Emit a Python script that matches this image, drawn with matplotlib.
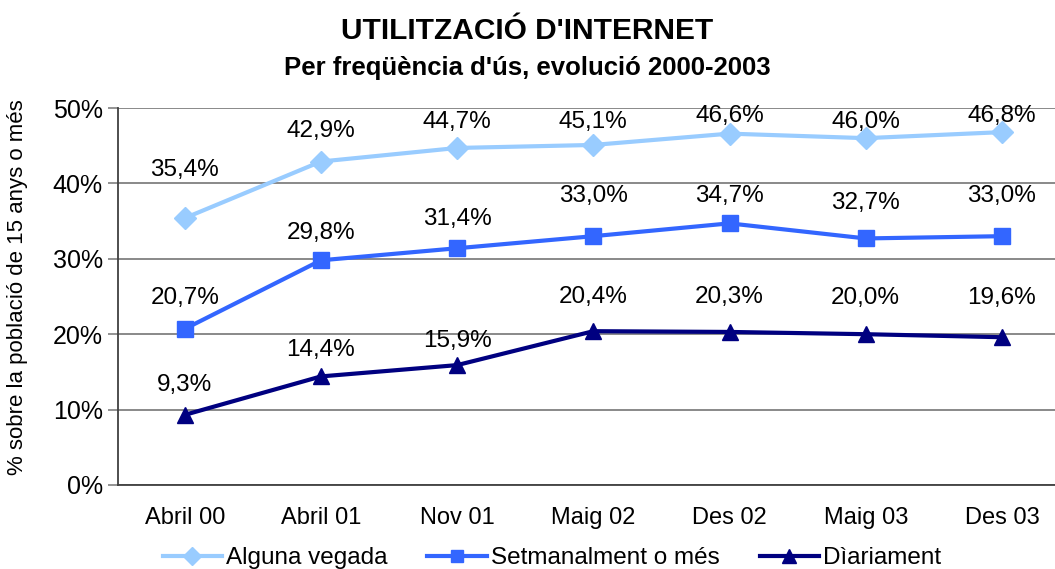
import matplotlib
matplotlib.use("Agg")
import matplotlib.pyplot as plt
from matplotlib.ticker import FuncFormatter

plt.rcParams['font.family'] = ['Liberation Sans', 'DejaVu Sans']

# Data
periods = ["Abril 00", "Abril 01", "Nov 01", "Maig 02", "Des 02", "Maig 03", "Des 03"]
alguna_vegada = [35.4, 42.9, 44.7, 45.1, 46.6, 46.0, 46.8]
setmanalment = [20.7, 29.8, 31.4, 33.0, 34.7, 32.7, 33.0]
diariament = [9.3, 14.4, 15.9, 20.4, 20.3, 20.0, 19.6]
series_names = ["Alguna vegada", "Setmanalment o més", "Dìariament"]

# label offsets above the point (pixels), as placed in the original
off_alguna = [48, 31, 26, 23, 18, 16, 16]
off_setman = [31, 27, 29, 40, 27, 35, 40]
off_diari = [30, 26, 24, 34, 35, 36, 39]

fig = plt.figure(figsize=(10.55, 5.69), dpi=100)
ax = fig.add_axes([118 / 1055, 1 - 485 / 569, 1 - 118 / 1055, (485 - 108) / 569])

x = list(range(len(periods)))
styles = [
    (alguna_vegada, "#99CCFF", "D", 11, off_alguna),
    (setmanalment, "#3366FF", "s", 11, off_setman),
    (diariament, "#000080", "^", 12, off_diari),
]

for (vals, col, mk, ms, offs), name in zip(styles, series_names):
    ax.plot(x, vals, color=col, marker=mk, markersize=ms, linewidth=3,
            label=name, clip_on=False, zorder=3)
    for xi, v, o in zip(x, vals, offs):
        ax.annotate(f"{v:.1f}%".replace(".", ","), (xi, v), xytext=(0, o),
                    textcoords="offset pixels", ha="center", va="center",
                    fontsize=17.5, color="black")

ax.set_xlim(-0.49, 6.39)
ax.set_ylim(0, 50)
ax.set_yticks(range(0, 51, 10))
ax.yaxis.set_major_formatter(FuncFormatter(lambda v, p: f"{int(v)}%"))
ax.grid(axis="y", color="#808080", linewidth=1.3)
ax.set_axisbelow(True)
ax.set_xticks(x)
ax.set_xticklabels(periods)
ax.tick_params(axis="x", length=0, labelsize=17, pad=16)
ax.tick_params(axis="y", length=7, width=1.2, color="#808080", labelsize=18, pad=4)
for s in ["top", "right"]:
    ax.spines[s].set_visible(False)
ax.spines["left"].set_color("#404040")
ax.spines["left"].set_linewidth(1.3)
ax.spines["bottom"].set_color("#404040")
ax.spines["bottom"].set_linewidth(1.3)

ax.set_ylabel("% sobre la població de 15 anys o més", fontsize=16, va="center")
ax.yaxis.set_label_coords(-0.107, 0.525)

fig.text(0.5, 1 - 31 / 569, "UTILITZACIÓ D'INTERNET", ha="center", va="center",
         fontsize=21.5, fontweight="bold")
fig.text(0.5, 1 - 68 / 569, "Per freqüència d'ús, evolució 2000-2003", ha="center",
         va="center", fontsize=18.5, fontweight="bold")

fig.legend(loc="center", bbox_to_anchor=(0.523, 1 - 558 / 569), ncol=3,
           frameon=False, fontsize=17.5, handlelength=2.45, handletextpad=0.15,
           columnspacing=1.65, markerscale=0.85)

fig.savefig("out.png", dpi=100)
